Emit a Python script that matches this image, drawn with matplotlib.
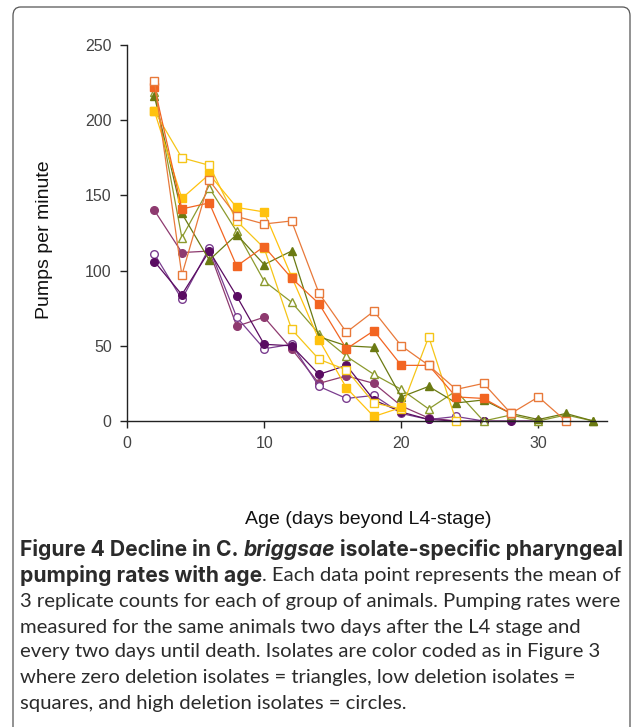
import matplotlib
matplotlib.use("Agg")
import matplotlib.pyplot as plt
from matplotlib.patches import FancyBboxPatch

# ---- data (age in days beyond L4, pumps per minute) ----
open_orange_x = [2, 4, 6, 8, 10, 12, 14, 16, 18, 20, 22, 24, 26, 28, 30, 32]
open_orange_y = [226, 97, 160, 136, 131, 133, 85, 59, 73, 50, 37, 21, 25, 5, 16, 0]

filled_orange_x = [2, 4, 6, 8, 10, 12, 14, 16, 18, 20, 22, 24, 26, 28]
filled_orange_y = [222, 141, 145, 103, 116, 95, 78, 48, 60, 37, 37, 16, 15, 5]

filled_yellow_x = [2, 4, 6, 8, 10, 12, 14, 16, 18, 20]
filled_yellow_y = [206, 148, 164, 142, 139, 96, 54, 22, 3, 9]

open_yellow_x = [2, 4, 6, 8, 10, 12, 14, 16, 18, 20, 22, 24]
open_yellow_y = [206, 175, 170, 133, 115, 61, 41, 34, 12, 8, 56, 0]

filled_olive_x = [2, 4, 6, 8, 10, 12, 14, 16, 18, 20, 22, 24, 26, 28, 30, 32, 34]
filled_olive_y = [216, 138, 107, 124, 104, 113, 56, 50, 49, 16, 23, 12, 14, 5, 1, 5, 0]

open_olive_x = [2, 4, 6, 8, 10, 12, 14, 16, 18, 20, 22, 24, 26, 28, 30, 32, 34]
open_olive_y = [219, 122, 155, 126, 93, 79, 58, 43, 31, 21, 8, 20, 0, 4, 0, 4, 0]

dark_purple_x = [2, 4, 6, 8, 10, 12, 14, 16, 18, 20, 22, 24, 26, 28, 30]
dark_purple_y = [106, 84, 113, 83, 51, 50, 31, 37, 14, 6, 1, 0, 0, 0, 0]

open_purple_x = [2, 4, 6, 8, 10, 12, 14, 16, 18, 20, 22, 24, 26]
open_purple_y = [111, 81, 115, 69, 48, 51, 23, 15, 17, 5, 1, 3, 0]

mauve_x = [2, 4, 6, 8, 10, 12, 14, 16, 18, 20, 22, 24]
mauve_y = [140, 112, 113, 63, 69, 48, 25, 30, 25, 10, 2, 0]

x_ticks = [0, 10, 20, 30]
y_ticks = [0, 50, 100, 150, 200, 250]

W, H = 633, 727
fig = plt.figure(figsize=(W / 100, H / 100), dpi=100)
fig.patch.set_facecolor("white")

# rounded frame
frame = FancyBboxPatch((13 / W, -0.05), (630 - 13) / W, (727 - 7) / H + 0.05,
                       boxstyle="round,pad=0,rounding_size=0.012",
                       transform=fig.transFigure, fill=False,
                       edgecolor="#555555", linewidth=0.9)
fig.patches.append(frame)

ax = fig.add_axes([127 / W, (H - 421) / H, (607 - 127) / W, (421 - 45) / H])
ax.set_xlim(0, 35)
ax.set_ylim(0, 250)
for s in ["top", "right"]:
    ax.spines[s].set_visible(False)
for s in ["left", "bottom"]:
    ax.spines[s].set_color("#222222")
    ax.spines[s].set_linewidth(1.0)
ax.set_xticks(x_ticks)
ax.set_yticks(y_ticks)
ax.tick_params(direction="out", length=5, width=1, colors="#222222",
               labelsize=11.5, labelcolor="#444444", pad=6)
for lab in ax.get_xticklabels() + ax.get_yticklabels():
    lab.set_fontfamily("Liberation Sans")

lw = 0.9
ms = 5.5
series = [
    (mauve_x, mauve_y, "o", "#8E3A6F", "#8E3A6F"),
    (open_purple_x, open_purple_y, "o", "#7A3D8F", "white"),
    (dark_purple_x, dark_purple_y, "o", "#5A0C62", "#5A0C62"),
    (open_olive_x, open_olive_y, "^", "#8C9A2E", "white"),
    (filled_olive_x, filled_olive_y, "^", "#6B7A12", "#6B7A12"),
    (open_yellow_x, open_yellow_y, "s", "#F5C518", "white"),
    (filled_yellow_x, filled_yellow_y, "s", "#FFC20E", "#FFC20E"),
    (filled_orange_x, filled_orange_y, "s", "#F26522", "#F26522"),
    (open_orange_x, open_orange_y, "s", "#E8793A", "white"),
]
for xs, ys, mk, col, fc in series:
    ax.plot(xs, ys, color=col, lw=lw, marker=mk, markersize=ms,
            markerfacecolor=fc, markeredgecolor=col, markeredgewidth=1.0,
            clip_on=False)

fig.text(45 / W, 1 - 240 / H, "Pumps per minute", rotation=90, ha="center",
         va="center", fontsize=14, family="Liberation Sans", color="#111111")
fig.text(368 / W, 1 - 519 / H, "Age (days beyond L4-stage)", ha="center",
         va="center", fontsize=14, family="Liberation Sans", color="#111111")

# ---- caption ----
norm_font = "Lato"
cap_color = "#2b2b2b"
lines = [
    [("Figure 4 Decline in ", "bold", "normal"), ("C. ", "bold", "normal"),
     ("briggsae", "bold", "italic"), (" isolate-specific pharyngeal", "bold", "normal")],
    [("pumping rates with age", "bold", "normal"),
     (". Each data point represents the mean of", "normal", "normal")],
    [("3 replicate counts for each of group of animals. Pumping rates were", "normal", "normal")],
    [("measured for the same animals two days after the L4 stage and", "normal", "normal")],
    [("every two days until death. Isolates are color coded as in Figure 3", "normal", "normal")],
    [("where zero deletion isolates = triangles, low deletion isolates =", "normal", "normal")],
    [("squares, and high deletion isolates = circles.", "normal", "normal")],
]
line_y = [550, 576, 601, 627, 652, 678, 703]
fig.canvas.draw()
renderer = fig.canvas.get_renderer()


def seg_width(txt, wt, st, size, fam):
    t = fig.text(0.5, 0.5, txt, fontsize=size, family=fam, weight=wt, style=st)
    w = t.get_window_extent(renderer=renderer).width
    t.remove()
    return w


base = 12.0
w3 = sum(seg_width(t, wt, st, base, norm_font) for t, wt, st in lines[2])
size_n = base * 600.0 / w3

# choose the bold family whose width at the same size best fills line 1
best = None
for fam in ["Lato", "Open Sans", "Noto Sans", "Roboto", "Inter", "DejaVu Sans", "Liberation Sans"]:
    w1 = sum(seg_width(t, wt, st, size_n, fam) for t, wt, st in lines[0])
    if w1 <= 606:
        score = 600 - w1
        if best is None or abs(score) < abs(best[1]):
            best = (fam, score, w1)
bold_font = best[0] if best else "Lato"
w1 = sum(seg_width(t, wt, st, size_n, bold_font) for t, wt, st in lines[0])
size_b = min(size_n * 600.0 / w1, size_n * 1.08)

for segs, yy in zip(lines, line_y):
    xpix = 20.0
    for txt, wt, st in segs:
        bold = wt == "bold"
        t = fig.text(xpix / W, 1 - yy / H, txt, ha="left", va="center",
                     fontsize=size_b if bold else size_n,
                     family=bold_font if bold else norm_font,
                     weight=wt, style=st, color=cap_color)
        bb = t.get_window_extent(renderer=renderer)
        xpix += bb.width

fig.savefig("out.png", dpi=100, facecolor="white")
